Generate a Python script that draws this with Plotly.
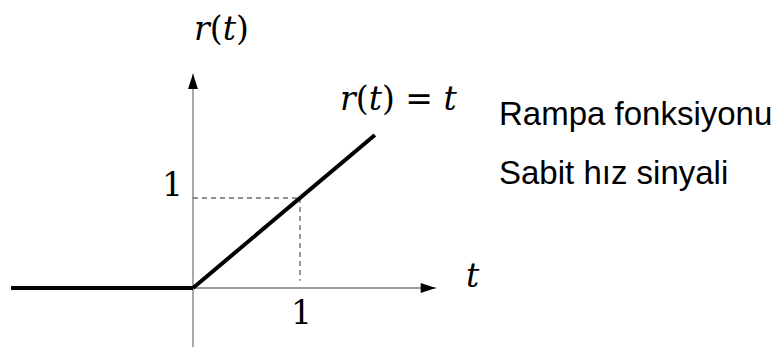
import plotly.graph_objects as go

# ---- data ----
t_neg = [-1.7, 0.0]
r_neg = [0.0, 0.0]
t_ramp = [0.0, 1.7]
r_ramp = [0.0, 1.7]
t_axis = [-1.7, 2.27]
r_axis = [-0.75, 2.38]
guide_level = [1.0]
guide_vert_bottom = [0.08]
tick_labels = ["1", "1"]
ramp_label = "<i>r</i>(<i>t</i>) = <i>t</i>"
y_title = "<i>r</i>(<i>t</i>)"
x_title = "<i>t</i>"
desc_lines = ["Rampa fonksiyonu", "Sabit hız sinyali"]

# page body adds an 8px margin; the figure is sized to fill the rest of the window
PAGE_MARGIN = 8
W, H = 782 - PAGE_MARGIN, 347 - PAGE_MARGIN
x0_px, y0_px = 193 - PAGE_MARGIN, 288 - PAGE_MARGIN
ux, uy = 107.0, 90.0
x_range = [-x0_px / ux, (W - x0_px) / ux]
y_range = [-(H - y0_px) / uy, y0_px / uy]

AX_GRAY = "#7a7a7a"
DASH_GRAY = "#6e6e6e"
MATH_FONT = "DejaVu Serif"
SANS_FONT = "Liberation Sans"

fig = go.Figure()

# axes (gray)
fig.add_trace(go.Scatter(x=t_axis, y=[0, 0], mode="lines",
                         line=dict(color=AX_GRAY, width=1.3), hoverinfo="skip"))
fig.add_trace(go.Scatter(x=[0, 0], y=r_axis, mode="lines",
                         line=dict(color=AX_GRAY, width=1.3), hoverinfo="skip"))
# arrow heads
fig.add_trace(go.Scatter(x=[t_axis[1]], y=[0], mode="markers",
                         marker=dict(symbol="arrow", size=16, angle=90, color="black",
                                     line=dict(width=0)), hoverinfo="skip"))
fig.add_trace(go.Scatter(x=[0], y=[r_axis[1]], mode="markers",
                         marker=dict(symbol="arrow", size=16, angle=0, color="black",
                                     line=dict(width=0)), hoverinfo="skip"))

# dashed guides
g = guide_level[0]
fig.add_trace(go.Scatter(x=[0, g], y=[g, g], mode="lines",
                         line=dict(color=DASH_GRAY, width=1.4, dash="5px,4px"), hoverinfo="skip"))
fig.add_trace(go.Scatter(x=[g, g], y=[g, guide_vert_bottom[0]], mode="lines",
                         line=dict(color=DASH_GRAY, width=1.4, dash="5px,4px"), hoverinfo="skip"))

# signal
fig.add_trace(go.Scatter(x=t_neg, y=r_neg, mode="lines",
                         line=dict(color="black", width=4), hoverinfo="skip"))
fig.add_trace(go.Scatter(x=t_ramp, y=r_ramp, mode="lines",
                         line=dict(color="black", width=4), hoverinfo="skip"))

math = dict(family=MATH_FONT, size=33, color="black")
sans = dict(family=SANS_FONT, size=33, color="black")

ann = [
    dict(x=0.266, y=2.88, text=y_title, font=math),
    dict(x=1.925, y=2.11, text=ramp_label, font=math),
    dict(x=2.62, y=0.14, text=x_title, font=math),
    dict(x=-0.196, y=1.15, text=tick_labels[1], font=math),
    dict(x=1.01, y=-0.27, text=tick_labels[0], font=math),
    dict(x=2.845, y=1.94, text=desc_lines[0], font=sans, xanchor="left"),
    dict(x=2.845, y=1.285, text=desc_lines[1], font=sans, xanchor="left"),
]
for a in ann:
    a.setdefault("xanchor", "center")
    a.update(yanchor="middle", showarrow=False, xref="x", yref="y")
    fig.add_annotation(**a)

fig.update_layout(
    width=W, height=H, margin=dict(l=0, r=0, t=0, b=0),
    paper_bgcolor="white", plot_bgcolor="white", showlegend=False,
    xaxis=dict(range=x_range, visible=False, fixedrange=True),
    yaxis=dict(range=y_range, visible=False, fixedrange=True),
)
fig.write_html("out.html")
